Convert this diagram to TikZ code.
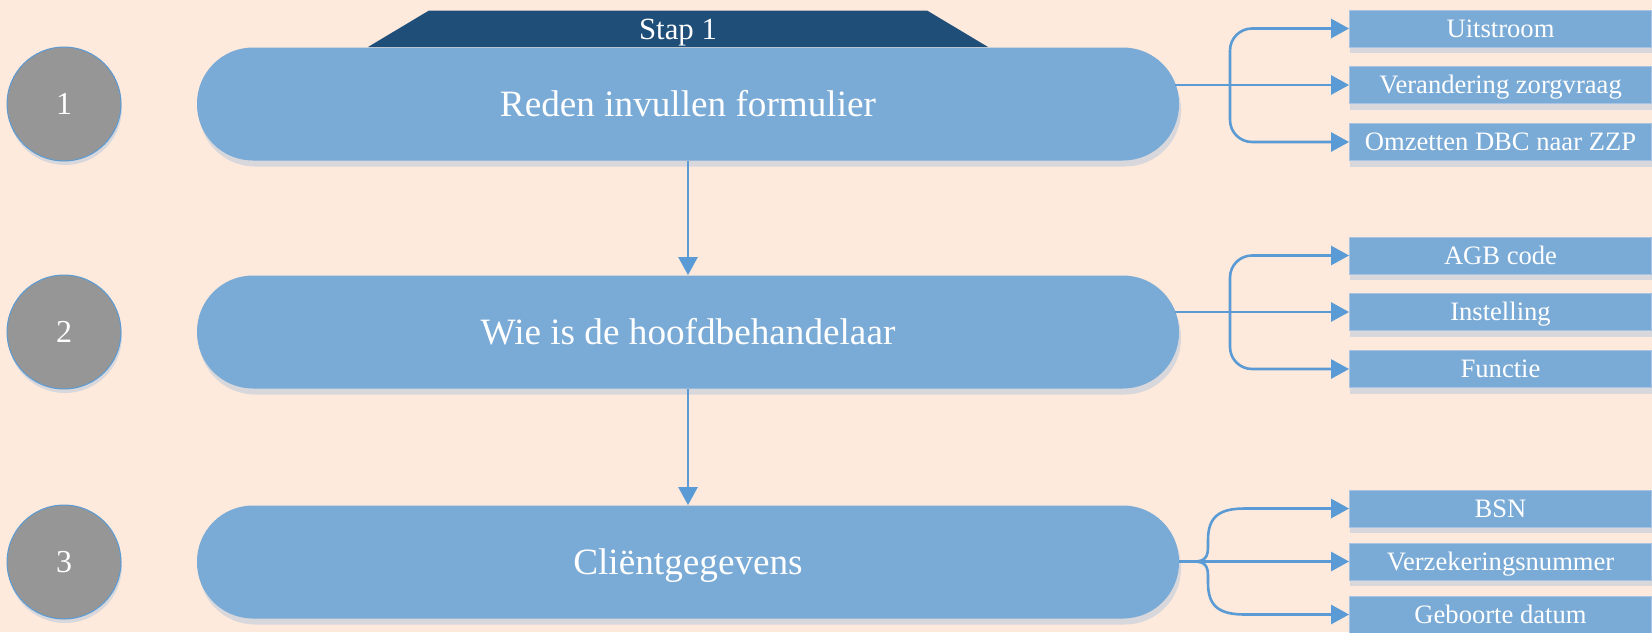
\documentclass[tikz,border=0pt]{standalone}
\usepackage{fontspec}
\setmainfont{Liberation Serif}
\usetikzlibrary{arrows.meta,shadows}
\definecolor{bgc}{HTML}{FDEADC}
\definecolor{barblue}{HTML}{7AAAD6}
\definecolor{lineblue}{HTML}{5B9BD5}
\definecolor{trapblue}{HTML}{1F4E79}
\definecolor{circgray}{HTML}{969696}
\definecolor{shadowgray}{HTML}{D8D7DB}
\definecolor{boxedge}{HTML}{A8C4E2}
\begin{document}
\begin{tikzpicture}[x=0.5pt,y=-0.5pt,
  bar/.style={fill=barblue, rounded corners=28pt, minimum width=491pt, minimum height=56.5pt,
    inner sep=0pt, text=white, font=\fontsize{18.6}{22}\selectfont,
    text height=12.3pt, text depth=0pt,
    drop shadow={shadow xshift=1pt, shadow yshift=-3pt, fill=shadowgray, opacity=1}},
  numcirc/.style={circle, fill=circgray, draw=lineblue, line width=0.5pt, minimum size=57pt,
    inner sep=0pt, text=white, font=\fontsize{16}{18}\selectfont,
    text height=10.8pt, text depth=0pt,
    drop shadow={shadow xshift=0.5pt, shadow yshift=-2pt, fill=shadowgray, opacity=1}},
  subbox/.style={rectangle, fill=barblue, draw=boxedge, line width=0.4pt, minimum width=151pt,
    minimum height=18.5pt, inner sep=0pt, text=white, font=\fontsize{13.3}{15}\selectfont,
    text height=8.8pt, text depth=0pt,
    drop shadow={shadow xshift=0pt, shadow yshift=-3pt, fill=shadowgray, opacity=1}},
  conn/.style={draw=lineblue, line width=1.3pt, -{Triangle[length=9pt, width=9.5pt]}}
]
\useasboundingbox (0,0) rectangle (1652,632);
\fill[bgc] (0,0) rectangle (1652,632);

% header trapezoid
\fill[trapblue] (368,47) -- (429,10.5) -- (927,10.5) -- (988,47) -- cycle;
\node[text=white, font=\fontsize{15.4}{18}\selectfont, inner sep=0pt,
  text height=10.2pt, text depth=0pt] (stap) at (678,29) {Stap 1};

% number circles
\node[numcirc] (c1) at (64,104) {1};
\node[numcirc] (c2) at (64,332) {2};
\node[numcirc] (c3) at (64,562) {3};

% main bars
\node[bar] (bar1) at (688,104) {Reden invullen formulier};
\node[bar] (bar2) at (688,332) {Wie is de hoofdbehandelaar};
\node[bar] (bar3) at (688,562) {Cliëntgegevens};

% sub boxes
\node[subbox] (b1a) at (1500.5,28.5) {Uitstroom};
\node[subbox] (b1b) at (1500.5,85) {Verandering zorgvraag};
\node[subbox] (b1c) at (1500.5,142) {Omzetten DBC naar ZZP};
\node[subbox] (b2a) at (1500.5,255.5) {AGB code};
\node[subbox] (b2b) at (1500.5,312) {Instelling};
\node[subbox] (b2c) at (1500.5,369) {Functie};
\node[subbox] (b3a) at (1500.5,508.5) {BSN};
\node[subbox] (b3b) at (1500.5,561.5) {Verzekeringsnummer};
\node[subbox] (b3c) at (1500.5,614.5) {Geboorte datum};

% vertical arrows
\draw[conn] (bar1.south) -- (bar2.north);
\draw[conn] (bar2.south) -- (bar3.north);

% group 1
\coordinate (j1) at (1230,85);
\draw[conn] ([xshift=-2pt]bar1.east |- b1b.west) -- (b1b.west);
\draw[conn, rounded corners=11pt] (j1) |- (b1a.west);
\draw[conn, rounded corners=11pt] (j1) |- (b1c.west);

% group 2
\coordinate (j2) at (1230,312);
\draw[conn] ([xshift=-2pt]bar2.east |- b2b.west) -- (b2b.west);
\draw[conn, rounded corners=11pt] (j2) |- (b2a.west);
\draw[conn, rounded corners=11pt] (j2) |- (b2c.west);

% group 3 (brace)
\coordinate (k3) at (1194,561.5);
\draw[conn] (bar3.east |- b3b.west) -- (b3b.west);
\draw[conn] (k3) .. controls (1206,561.5) and (1208,556) .. (1208,546) -- (1208,540)
  .. controls (1208,516) and (1220,508.5) .. (1245,508.5) -- (b3a.west);
\draw[conn] (k3) .. controls (1206,561.5) and (1208,567) .. (1208,577) -- (1208,583)
  .. controls (1208,607) and (1220,614.5) .. (1245,614.5) -- (b3c.west);
\end{tikzpicture}
\end{document}
